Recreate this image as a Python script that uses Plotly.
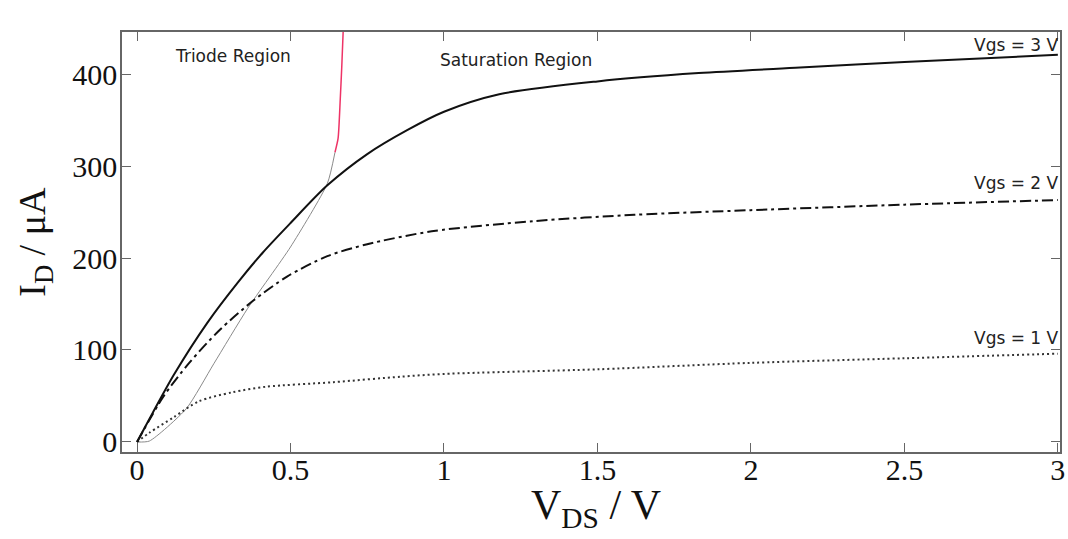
import plotly.graph_objects as go

# Vgs = 3 V (solid)
vds_3 = [0, 0.05, 0.12, 0.23, 0.33, 0.41, 0.5, 0.62, 0.75, 0.88, 1.0, 1.18, 1.5, 1.83, 2.16, 2.5, 3.0]
id_3 = [0, 31, 73, 130, 174, 206, 238, 279, 313, 339, 359, 378, 392, 401, 407, 413, 421]

# Vgs = 2 V (dash-dot)
vds_2 = [0, 0.085, 0.17, 0.27, 0.38, 0.49, 0.62, 0.75, 0.96, 1.29, 1.62, 2.0, 2.5, 3.0]
id_2 = [0, 49, 86, 122, 154, 180, 202, 215, 229, 240, 247, 252, 258, 263]

# Vgs = 1 V (dotted)
vds_1 = [0, 0.04, 0.12, 0.2, 0.31, 0.42, 0.64, 0.86, 1.0, 1.5, 2.0, 2.5, 3.0]
id_1 = [0, 10, 27, 44, 54, 60, 65, 71, 74, 79, 86, 91, 96]

# Boundary Vds = Vgs - |Vth| (gray part and red part)
vds_b = [0, 0.04, 0.16, 0.25, 0.36, 0.5, 0.62, 0.645]
id_b = [0, 1, 36, 85, 145, 212, 281, 315]
vds_r = [0.645, 0.655, 0.662, 0.667, 0.672]
id_r = [315, 330, 372, 408, 450]

x_ticks = [0, 0.5, 1, 1.5, 2, 2.5, 3]
x_tick_text = ["0", "0.5", "1", "1.5", "2", "2.5", "3"]
y_ticks = [0, 100, 200, 300, 400]

fig = go.Figure()
fig.add_trace(go.Scatter(x=vds_b, y=id_b, mode="lines", line_shape="spline",
                         line=dict(color="#8a8a8a", width=1, smoothing=0.6), showlegend=False))
fig.add_trace(go.Scatter(x=vds_r, y=id_r, mode="lines", line_shape="spline",
                         line=dict(color="#ee3366", width=1.5, smoothing=0.6), showlegend=False))
fig.add_trace(go.Scatter(x=vds_1, y=id_1, mode="lines", line_shape="spline",
                         line=dict(color="#333333", width=2, dash="2px,3px", smoothing=0.8),
                         showlegend=False))
fig.add_trace(go.Scatter(x=vds_2, y=id_2, mode="lines", line_shape="spline",
                         line=dict(color="#111111", width=2, dash="11px,4px,3px,4px", smoothing=0.8),
                         showlegend=False))
fig.add_trace(go.Scatter(x=vds_3, y=id_3, mode="lines", line_shape="spline",
                         line=dict(color="#111111", width=2, smoothing=0.8), showlegend=False))

ann_font = dict(family="DejaVu Sans", size=17, color="#222222")
annotations = [
    dict(x=0.704, y=464, text="Vds = Vgs - |Vth|"),
    dict(x=0.313, y=420, text="Triode Region"),
    dict(x=1.235, y=415, text="Saturation Region"),
    dict(x=2.866, y=431.5, text="Vgs = 3 V"),
    dict(x=2.866, y=281.5, text="Vgs = 2 V"),
    dict(x=2.866, y=113, text="Vgs = 1 V"),
]
for a in annotations:
    a.update(xref="x", yref="y", showarrow=False, font=ann_font,
             xanchor="center", yanchor="middle")

annotations.append(dict(xref="paper", yref="paper", x=(596 - 122) / 938, y=-0.067,
                        text="V<sub>DS</sub> / V", showarrow=False,
                        font=dict(family="Liberation Serif", size=42, color="#111111"),
                        xanchor="center", yanchor="top"))
annotations.append(dict(xref="paper", yref="paper", x=-0.093, y=0.5,
                        text="I<sub>D</sub> / μA", showarrow=False,
                        font=dict(family="Liberation Serif", size=38, color="#111111"),
                        textangle=-90, xanchor="center", yanchor="middle"))

axis_common = dict(showline=True, linecolor="#666666", linewidth=1.5, mirror="ticks",
                   ticks="inside", ticklen=9, tickwidth=1, tickcolor="#666666",
                   showgrid=False, zeroline=False, automargin=False,
                   tickfont=dict(family="Liberation Serif", size=30, color="#111111"))

fig.update_layout(
    width=1068, height=539,
    margin=dict(l=122, r=8, t=32, b=87, autoexpand=False),
    paper_bgcolor="white", plot_bgcolor="white",
    xaxis=dict(range=[-0.049, 3.007], tickvals=x_ticks, ticktext=x_tick_text,
               ticklabelstandoff=-10, **axis_common),
    yaxis=dict(range=[-10.9, 445.7], tickvals=y_ticks, ticklabelstandoff=-3, **axis_common),
    annotations=annotations,
)

fig.write_html("out.html", config={"displayModeBar": False},
               post_script="document.body.style.margin='0';")
